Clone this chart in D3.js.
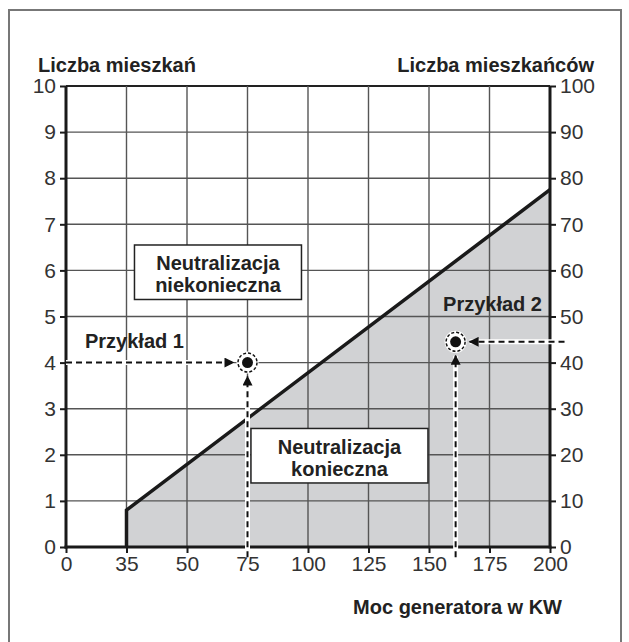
<!DOCTYPE html>
<html>
<head>
<meta charset="utf-8">
<script src="https://cdn.jsdelivr.net/npm/d3@7"></script>
<style>
  body { margin: 0; background: #fff; }
  .tick-label { font-family: "Liberation Sans", Arial, sans-serif; font-size: 21px; fill: #333; }
  .label { font-family: "Liberation Sans", Arial, sans-serif; font-weight: bold; font-size: 20px; fill: #222; }
</style>
</head>
<body>
<div id="plot-canvas" style="width:629px;height:642px;"></div>
<script>
// x ticks are evenly spaced although their values are not
const kwTicks = [0, 35, 50, 75, 100, 125, 150, 175, 200];
const flatTicks = [0, 1, 2, 3, 4, 5, 6, 7, 8, 9, 10];
const peopleTicks = [0, 10, 20, 30, 40, 50, 60, 70, 80, 90, 100];
const gridKw = [35, 50, 75, 100, 125, 150, 175];

// boundary of "neutralizacja konieczna"
const boundaryKw = [35, 35, 200];
const boundaryFlats = [0, 0.8, 7.75];

const exampleNames = ["Przykład 1", "Przykład 2"];
const exampleKw = [75, 161];
const exampleFlats = [4, 4.45];
const exampleFromKw = [0, 206];

const boxLines = [["Neutralizacja", "niekonieczna"], ["Neutralizacja", "konieczna"]];
const boxKw = [62.8, 113];
const boxFlats = [5.96, 1.98];

const margin = {top: 86, right: 79, bottom: 95, left: 66},
    width = 629 - margin.left - margin.right,
    height = 642 - margin.top - margin.bottom;

const x = d3.scaleLinear()
    .domain(kwTicks)
    .range(kwTicks.map((d, i) => i * width / (kwTicks.length - 1)));
const y = d3.scaleLinear().domain([0, 10]).range([height, 0]);
const y2 = d3.scaleLinear().domain([0, 100]).range([height, 0]);

const root = d3.select("#plot-canvas").append("svg")
    .attr("width", 629)
    .attr("height", 642);

// outer frame
root.append("rect")
    .attr("x", 9).attr("y", 10)
    .attr("width", 612).attr("height", 700)
    .attr("fill", "none").attr("stroke", "#777").attr("stroke-width", 2);

const defs = root.append("defs");
defs.append("marker")
    .attr("id", "arrow")
    .attr("viewBox", "0 0 10 10")
    .attr("refX", 9).attr("refY", 5)
    .attr("markerWidth", 5.5).attr("markerHeight", 5)
    .attr("markerUnits", "strokeWidth")
    .attr("orient", "auto")
    .append("path").attr("d", "M0,0L10,5L0,10Z").attr("fill", "#111");

const svg = root.append("g").attr("transform", "translate(" + margin.left + "," + margin.top + ")");

// grey area
const areaPoints = boundaryKw.map((k, i) => [x(k), y(boundaryFlats[i])]).concat([[x(200), y(0)]]);
svg.append("path")
    .attr("d", d3.line()(areaPoints) + "Z")
    .attr("fill", "#d1d2d4");

//Grid
svg.append("g").selectAll("line")
    .data(flatTicks.slice(1))
    .enter().append("line")
    .attr("x1", 0).attr("x2", width)
    .attr("y1", d => y(d)).attr("y2", d => y(d))
    .attr("stroke", d => d === 10 ? "#222" : "#555")
    .attr("stroke-width", d => d === 10 ? 1.8 : 1.4);

svg.append("g").selectAll("line")
    .data(gridKw)
    .enter().append("line")
    .attr("x1", d => x(d)).attr("x2", d => x(d))
    .attr("y1", 0).attr("y2", height)
    .attr("stroke", "#555").attr("stroke-width", 1.4);

// boundary line
svg.append("path")
    .attr("d", d3.line()(boundaryKw.map((k, i) => [x(k), y(boundaryFlats[i])])))
    .attr("fill", "none").attr("stroke", "#1a1a1a").attr("stroke-width", 3.5)
    .attr("stroke-linejoin", "miter");

//Draw axes
const leftAxis = d3.axisLeft(y).tickValues(flatTicks).tickSize(6).tickPadding(4);
const rightAxis = d3.axisRight(y2).tickValues(peopleTicks).tickSize(6).tickPadding(4);
const bottomAxis = d3.axisBottom(x).tickValues(kwTicks).tickSize(6).tickPadding(3);

function styleAxis(g) {
    g.select(".domain").remove();
    g.selectAll(".tick line").attr("stroke", "#1a1a1a").attr("stroke-width", 2);
    g.selectAll(".tick text").attr("class", "tick-label").attr("font-family", null).attr("font-size", null);
}

svg.append("g").call(leftAxis).call(styleAxis);
svg.append("g").attr("transform", "translate(" + width + ",0)").call(rightAxis).call(styleAxis);
svg.append("g").attr("transform", "translate(0," + height + ")").call(bottomAxis).call(styleAxis);

svg.append("line").attr("x1", 0).attr("x2", 0).attr("y1", 0).attr("y2", height + 1.5)
    .attr("stroke", "#1a1a1a").attr("stroke-width", 3);
svg.append("line").attr("x1", width).attr("x2", width).attr("y1", 0).attr("y2", height + 1.5)
    .attr("stroke", "#1a1a1a").attr("stroke-width", 3);
svg.append("line").attr("x1", -1.5).attr("x2", width + 1.5).attr("y1", height).attr("y2", height)
    .attr("stroke", "#1a1a1a").attr("stroke-width", 3);

// boxes
boxLines.forEach(function (lines, i) {
    const cx = x(boxKw[i]), cy = y(boxFlats[i]);
    const w = i === 0 ? 167 : 177, h = 54.5;
    svg.append("rect")
        .attr("x", cx - w / 2).attr("y", cy - h / 2)
        .attr("width", w).attr("height", h)
        .attr("fill", "#fff").attr("stroke", "#222").attr("stroke-width", 1.5);
    svg.append("text")
        .attr("class", "label")
        .attr("x", cx).attr("y", cy - 2)
        .style("text-anchor", "middle")
        .text(lines[0]);
    svg.append("text")
        .attr("class", "label")
        .attr("x", cx).attr("y", cy + 20)
        .style("text-anchor", "middle")
        .text(lines[1]);
});

// examples
exampleNames.forEach(function (name, i) {
    const px = x(exampleKw[i]), py = y(exampleFlats[i]);
    const hx = x(exampleFromKw[i]);
    const dir = hx < px ? 1 : -1;
    const vy = y(-0.22);
    const paths = [
        [[hx, py], [px - dir * 14, py]],
        [[px, vy], [px, py + 14]]
    ];
    paths.forEach(function (p) {
        svg.append("path").attr("d", d3.line()(p))
            .attr("stroke", "#fff").attr("stroke-width", 5);
        svg.append("path").attr("d", d3.line()(p))
            .attr("stroke", "#111").attr("stroke-width", 2)
            .attr("stroke-dasharray", "6,4")
            .attr("marker-end", "url(#arrow)");
    });
    svg.append("circle").attr("cx", px).attr("cy", py).attr("r", 11).attr("fill", "#fff");
    svg.append("circle").attr("cx", px).attr("cy", py).attr("r", 9.5)
        .attr("fill", "none").attr("stroke", "#111").attr("stroke-width", 1.5)
        .attr("stroke-dasharray", "3,2");
    svg.append("circle").attr("cx", px).attr("cy", py).attr("r", 5.5).attr("fill", "#111");
});

svg.append("text").attr("class", "label")
    .attr("x", 19).attr("y", y(4.32))
    .text(exampleNames[0]);
svg.append("text").attr("class", "label")
    .attr("x", width - 8).attr("y", y(5.13))
    .style("text-anchor", "end")
    .text(exampleNames[1]);

// titles
svg.append("text").attr("class", "label")
    .attr("x", -28).attr("y", -14)
    .text("Liczba mieszkań");
svg.append("text").attr("class", "label")
    .attr("x", width + 44).attr("y", -14)
    .style("text-anchor", "end")
    .text("Liczba mieszkańców");
svg.append("text").attr("class", "label")
    .attr("x", width + 12).attr("y", height + 67)
    .style("text-anchor", "end")
    .text("Moc generatora w KW");
</script>
</body>
</html>
